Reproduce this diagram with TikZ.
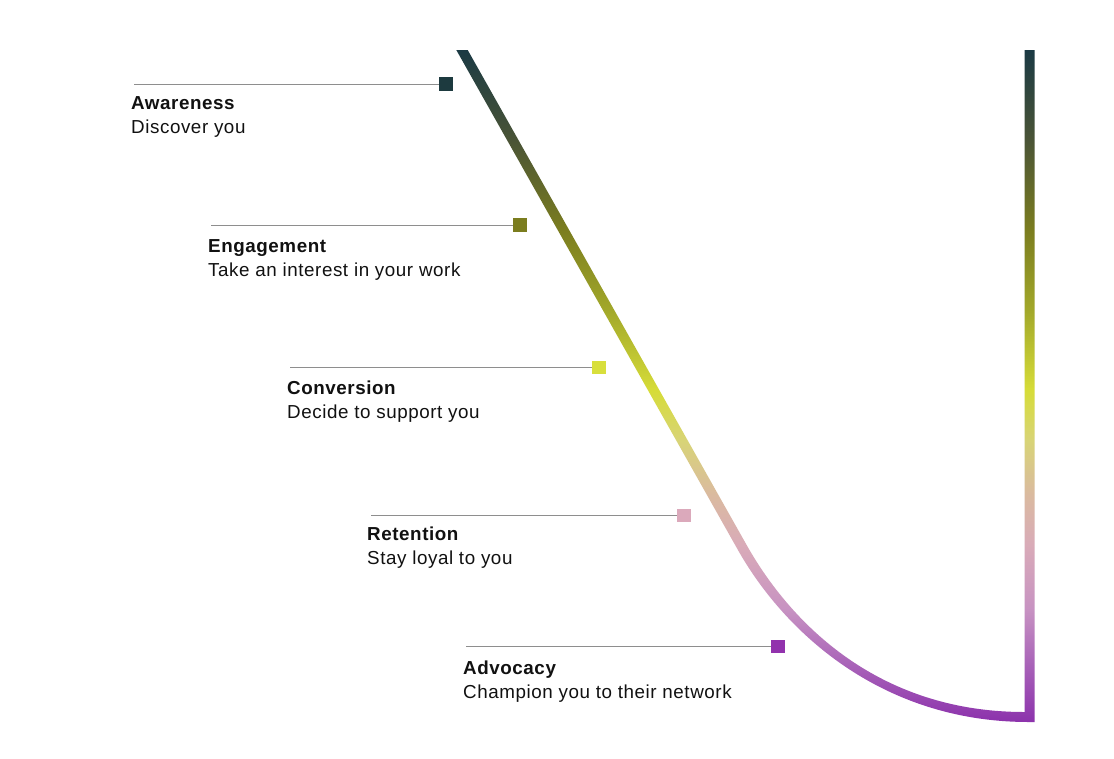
\documentclass[tikz,border=0pt]{standalone}
\usepackage{fontspec}
\setmainfont{Liberation Sans}[LetterSpace=3]
\definecolor{g0}{HTML}{1B3A44}
\definecolor{g1}{HTML}{4A5436}
\definecolor{g2}{HTML}{7B7D1F}
\definecolor{g3}{HTML}{A2A82A}
\definecolor{g4}{HTML}{D6DC38}
\definecolor{g5}{HTML}{D8D476}
\definecolor{g6}{HTML}{DABAA0}
\definecolor{g7}{HTML}{D9ABB8}
\definecolor{g8}{HTML}{C792C2}
\definecolor{g9}{HTML}{A862B8}
\definecolor{g10}{HTML}{8C32AC}
\definecolor{sqA}{HTML}{1D3A3F}
\definecolor{sqB}{HTML}{7B7D1F}
\definecolor{sqC}{HTML}{D8DF3C}
\definecolor{sqD}{HTML}{DBA9BB}
\definecolor{sqE}{HTML}{9232AD}
\definecolor{leadgray}{HTML}{8E8E8E}
\definecolor{ink}{HTML}{111111}
\pgfdeclareverticalshading{funnelshade}{100bp}{color(0bp)=(g10); color(25bp)=(g10); color(29.24bp)=(g9); color(33.33bp)=(g8); color(38.17bp)=(g7); color(41.89bp)=(g6); color(45.98bp)=(g5); color(49.70bp)=(g4); color(55.65bp)=(g3); color(61.61bp)=(g2); color(68.30bp)=(g1); color(75bp)=(g0); color(100bp)=(g0)}
\begin{document}
\begin{tikzpicture}[x=1pt,y=-1pt,
  sq/.style={rectangle,minimum size=13.5pt,inner sep=0pt,draw=none},
  lead/.style={draw=leadgray,line width=0.9pt},
  ttl/.style={anchor=base west,inner sep=0pt,text=ink,font=\fontsize{18.8}{22}\selectfont\bfseries},
  sub/.style={anchor=base west,inner sep=0pt,text=ink,font=\fontsize{18.8}{22}\selectfont}]
\useasboundingbox[fill=white] (0,0) rectangle (1114,758);
% funnel band with vertical gradient
\begin{scope}
\clip (456.3,50) -- (737.65,549.46) .. controls (782.65,629.46) and (879,722) .. (1029,722)
  -- (1034.5,722) -- (1034.5,50) -- (1024.5,50) -- (1024.5,712)
  .. controls (879,712) and (791.35,624.54) .. (746.35,544.54) -- (467.7,50) -- cycle;
\shade[shading=funnelshade] (440,50) rectangle (1040,722);
\end{scope}
% markers
\node[sq,fill=sqA] (sA) at (446,84) {};
\node[sq,fill=sqB] (sB) at (520,225) {};
\node[sq,fill=sqC] (sC) at (599,367.5) {};
\node[sq,fill=sqD] (sD) at (684,515.5) {};
\node[sq,fill=sqE] (sE) at (778,646.5) {};
\coordinate (lA) at (134,84);
\coordinate (lB) at (211,225);
\coordinate (lC) at (290,367.5);
\coordinate (lD) at (371,515.5);
\coordinate (lE) at (466,646.5);
\draw[lead] (lA) -- (sA.west);
\draw[lead] (lB) -- (sB.west);
\draw[lead] (lC) -- (sC.west);
\draw[lead] (lD) -- (sD.west);
\draw[lead] (lE) -- (sE.west);
% texts
\node[ttl] (tA) at (131,109.5) {Awareness};
\node[sub] (uA) at (131,133.5) {Discover you};
\node[ttl] (tB) at (208,252.5) {Engagement};
\node[sub] (uB) at (208,276.5) {Take an interest in your work};
\node[ttl] (tC) at (287,394.5) {Conversion};
\node[sub] (uC) at (287,418.5) {Decide to support you};
\node[ttl] (tD) at (367,540.5) {Retention};
\node[sub] (uD) at (367,564.5) {Stay loyal to you};
\node[ttl] (tE) at (463,674.5) {Advocacy};
\node[sub] (uE) at (463,698.5) {Champion you to their network};
\end{tikzpicture}
\end{document}
